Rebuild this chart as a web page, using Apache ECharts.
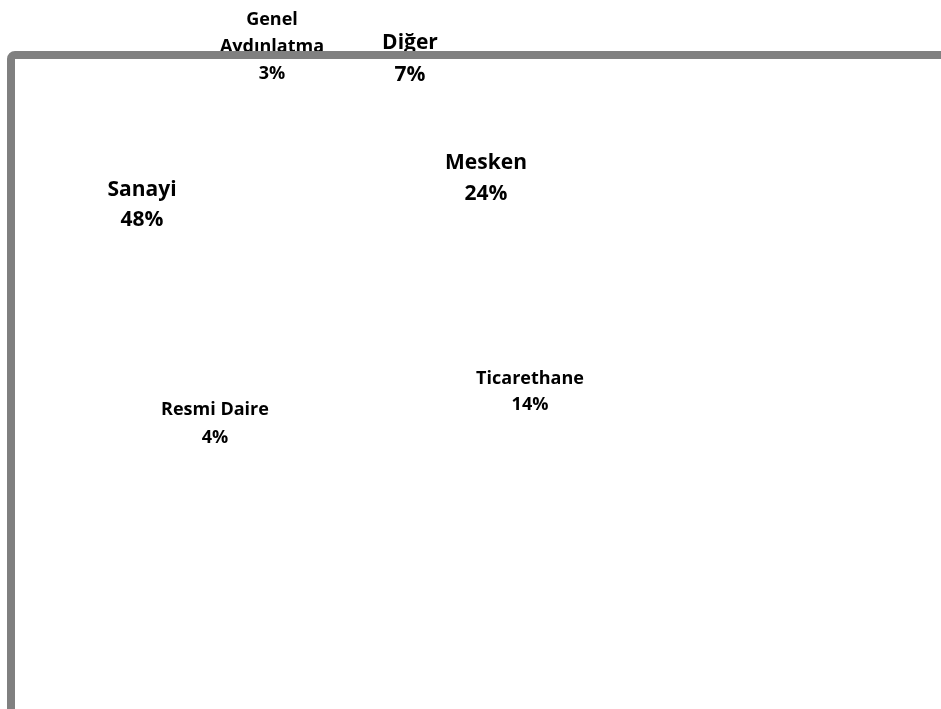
<!DOCTYPE html>
<html>
<head>
<meta charset="utf-8">
<script src="https://cdn.jsdelivr.net/npm/echarts@6/dist/echarts.min.js"></script>
<style>
html,body{margin:0;padding:0;background:#fff;}
#chart{width:941px;height:709px;}
</style>
</head>
<body>
<div id="chart"></div>
<script>
// Data
const categories = ['Sanayi', 'Resmi Daire', 'Ticarethane', 'Mesken', 'Diğer', 'Genel Aydınlatma'];
const shares = [48, 4, 14, 24, 7, 3];

// Label layout (positions/styles kept apart from data)
const labelPos = [
  {x: 142, y: 205, fs: 21, lh: 30, wrap: false},
  {x: 215, y: 424, fs: 18, lh: 28, wrap: false},
  {x: 530, y: 392, fs: 18, lh: 26, wrap: false},
  {x: 486, y: 179, fs: 21, lh: 31, wrap: false},
  {x: 410, y: 59,  fs: 21, lh: 32, wrap: false},
  {x: 272, y: 47,  fs: 18, lh: 27, wrap: true}
];

const chart = echarts.init(document.getElementById('chart'), null, {renderer: 'canvas'});

const seriesData = categories.map((name, i) => ({
  name: name,
  value: shares[i],
  label: {
    fontSize: labelPos[i].fs,
    lineHeight: labelPos[i].lh
  }
}));

chart.setOption({
  backgroundColor: '#ffffff',
  animation: false,
  series: [{
    type: 'pie',
    center: [330, 260],
    radius: [0, 200],
    clockwise: false,
    startAngle: 150,
    silent: true,
    itemStyle: {color: 'rgba(255,255,255,0)', borderWidth: 0},
    emphasis: {disabled: true},
    label: {
      show: true,
      position: 'inside',
      formatter: function (p) {
        const nm = labelPos[p.dataIndex].wrap ? p.name.replace(' ', '\n') : p.name;
        return nm + '\n' + Math.round(p.percent) + '%';
      },
      fontFamily: '"Open Sans", "DejaVu Sans", sans-serif',
      fontWeight: 'bold',
      color: '#000000',
      align: 'center',
      overflow: 'none'
    },
    labelLine: {show: false},
    labelLayout: function (params) {
      const p = labelPos[params.dataIndex];
      return {x: p.x, y: p.y, align: 'center', verticalAlign: 'middle'};
    },
    data: seriesData
  }],
  graphic: [{
    type: 'rect',
    z: 100,
    silent: true,
    shape: {x: 11, y: 55, width: 1200, height: 1200, r: 4},
    style: {fill: 'none', stroke: '#808080', lineWidth: 8}
  }]
});
</script>
</body>
</html>
